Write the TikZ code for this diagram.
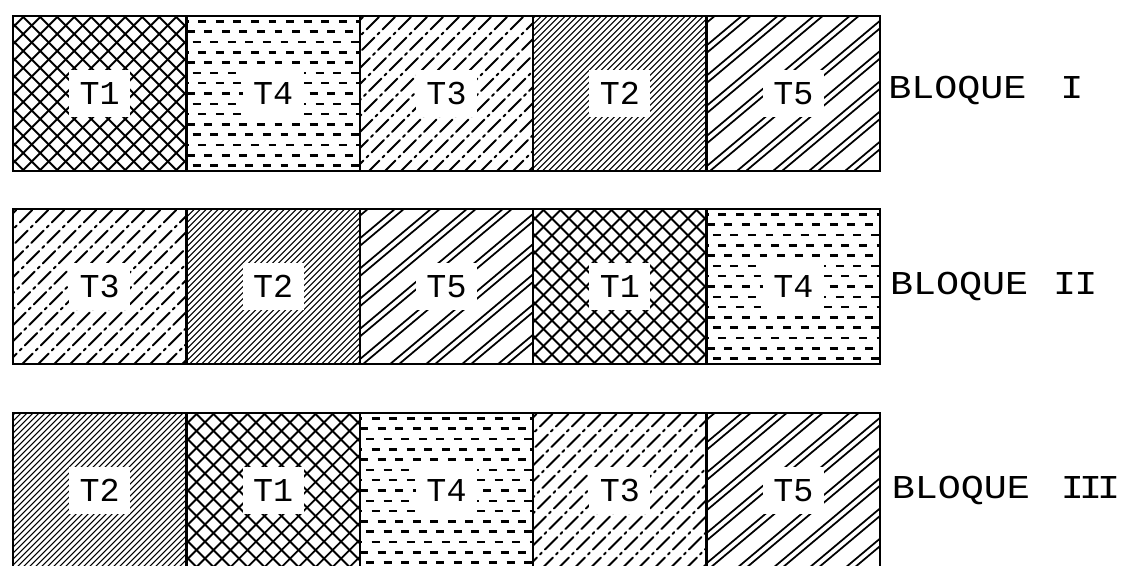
\documentclass[tikz,border=0pt]{standalone}
\usepackage{fontspec}
\newfontfamily\plotterfont{Liberation Mono}
\newfontfamily\bloquefont[FakeStretch=1.15]{Liberation Mono}
\usetikzlibrary{positioning}

\tikzset{
  parcela/.style={draw, line width=1.3pt, outer sep=0pt, inner sep=0pt,
    minimum width=3.468cm, minimum height=3.1cm},
  rayado/.style={line width=1pt, line cap=round},
  etiqueta/.style={fill=white, inner xsep=6pt, inner ysep=7pt,
    font=\plotterfont\fontsize{19}{19}\selectfont},
  bloque/.style={inner sep=0pt, font=\bloquefont\fontsize{19}{19}\selectfont},
  % T1: cuadriculado diagonal
  trat1/.style={path picture={
    \begin{scope}[shift={(path picture bounding box.center)}]
      \foreach \d in {-204,-187,...,204} {
        \draw[rayado, line width=1.1pt] (\d-100,100) -- (\d+100,-100);
        \draw[rayado, line width=1.1pt] (\d-100,-100) -- (\d+100,100);
      }
    \end{scope}}},
  % T2: rayado fino y denso
  trat2/.style={path picture={
    \begin{scope}[shift={(path picture bounding box.center)}]
      \foreach \d in {-198,-192,...,198}
        \draw[rayado, line width=0.6pt] (\d-100,100) -- (\d+100,-100);
    \end{scope}}},
  % T3: rayado discontinuo
  trat3/.style={path picture={
    \begin{scope}[shift={(path picture bounding box.center)}]
      \foreach \d in {-208,-192,...,208}
        \draw[rayado, line width=1.1pt, dash pattern=on 10pt off 2.5pt on 1.5pt off 2.5pt]
          (\d-100,100) -- (\d+100,-100);
    \end{scope}}},
  % T4: guiones horizontales
  trat4/.style={path picture={
    \begin{scope}[shift={(path picture bounding box.center)}]
      \foreach \k in {-7,...,7}
        \draw[line width=1.4pt, line cap=butt, dash pattern=on 4.5pt off 5.5pt]
          ({-110+mod(\k+7,3)*6},\k*10.3) -- (100,\k*10.3);
    \end{scope}}},
  % T5: pares de lineas separadas
  trat5/.style={path picture={
    \begin{scope}[shift={(path picture bounding box.center)}]
      \foreach \d in {-216,-180,...,216} {
        \draw[rayado] (\d-120,100.7) -- (\d+120,-100.7);
        \draw[rayado] (\d-111,100.7) -- (\d+129,-100.7);
      }
    \end{scope}}}
}

\begin{document}
\begin{tikzpicture}[x=0.02cm, y=-0.02cm]
\useasboundingbox (0,0) rectangle (1121,565);

%====================================================
% BLOQUE I
%====================================================
\foreach \t [count=\c] in {1,4,3,2,5} {
  \node[parcela, trat\t] (I-\c) at ({99.7+(\c-1)*173.4},93.5) {};
  \node[etiqueta] (I-\c-t) at (I-\c) {T\t};
}
\node[bloque, right=4.5pt of I-5, yshift=2pt] (bloque-I) {BLOQUE\hspace{0.68cm}I};

%====================================================
% BLOQUE II
%====================================================
\foreach \t [count=\c] in {3,2,5,1,4} {
  \node[parcela, trat\t] (II-\c) at ({99.7+(\c-1)*173.4},286.5) {};
  \node[etiqueta] (II-\c-t) at (II-\c) {T\t};
}
\node[bloque, right=5.5pt of II-5] (bloque-II) {BLOQUE\hspace{0.5cm}I\kern-0.04cm I};

%====================================================
% BLOQUE III
%====================================================
\foreach \t [count=\c] in {2,1,4,3,5} {
  \node[parcela, trat\t] (III-\c) at ({99.7+(\c-1)*173.4},490.5) {};
  \node[etiqueta] (III-\c-t) at (III-\c) {T\t};
}
\node[bloque, right=6.5pt of III-5] (bloque-III) {BLOQUE\hspace{0.62cm}I\kern-0.1cm I\kern-0.1cm I};
\end{tikzpicture}
\end{document}
